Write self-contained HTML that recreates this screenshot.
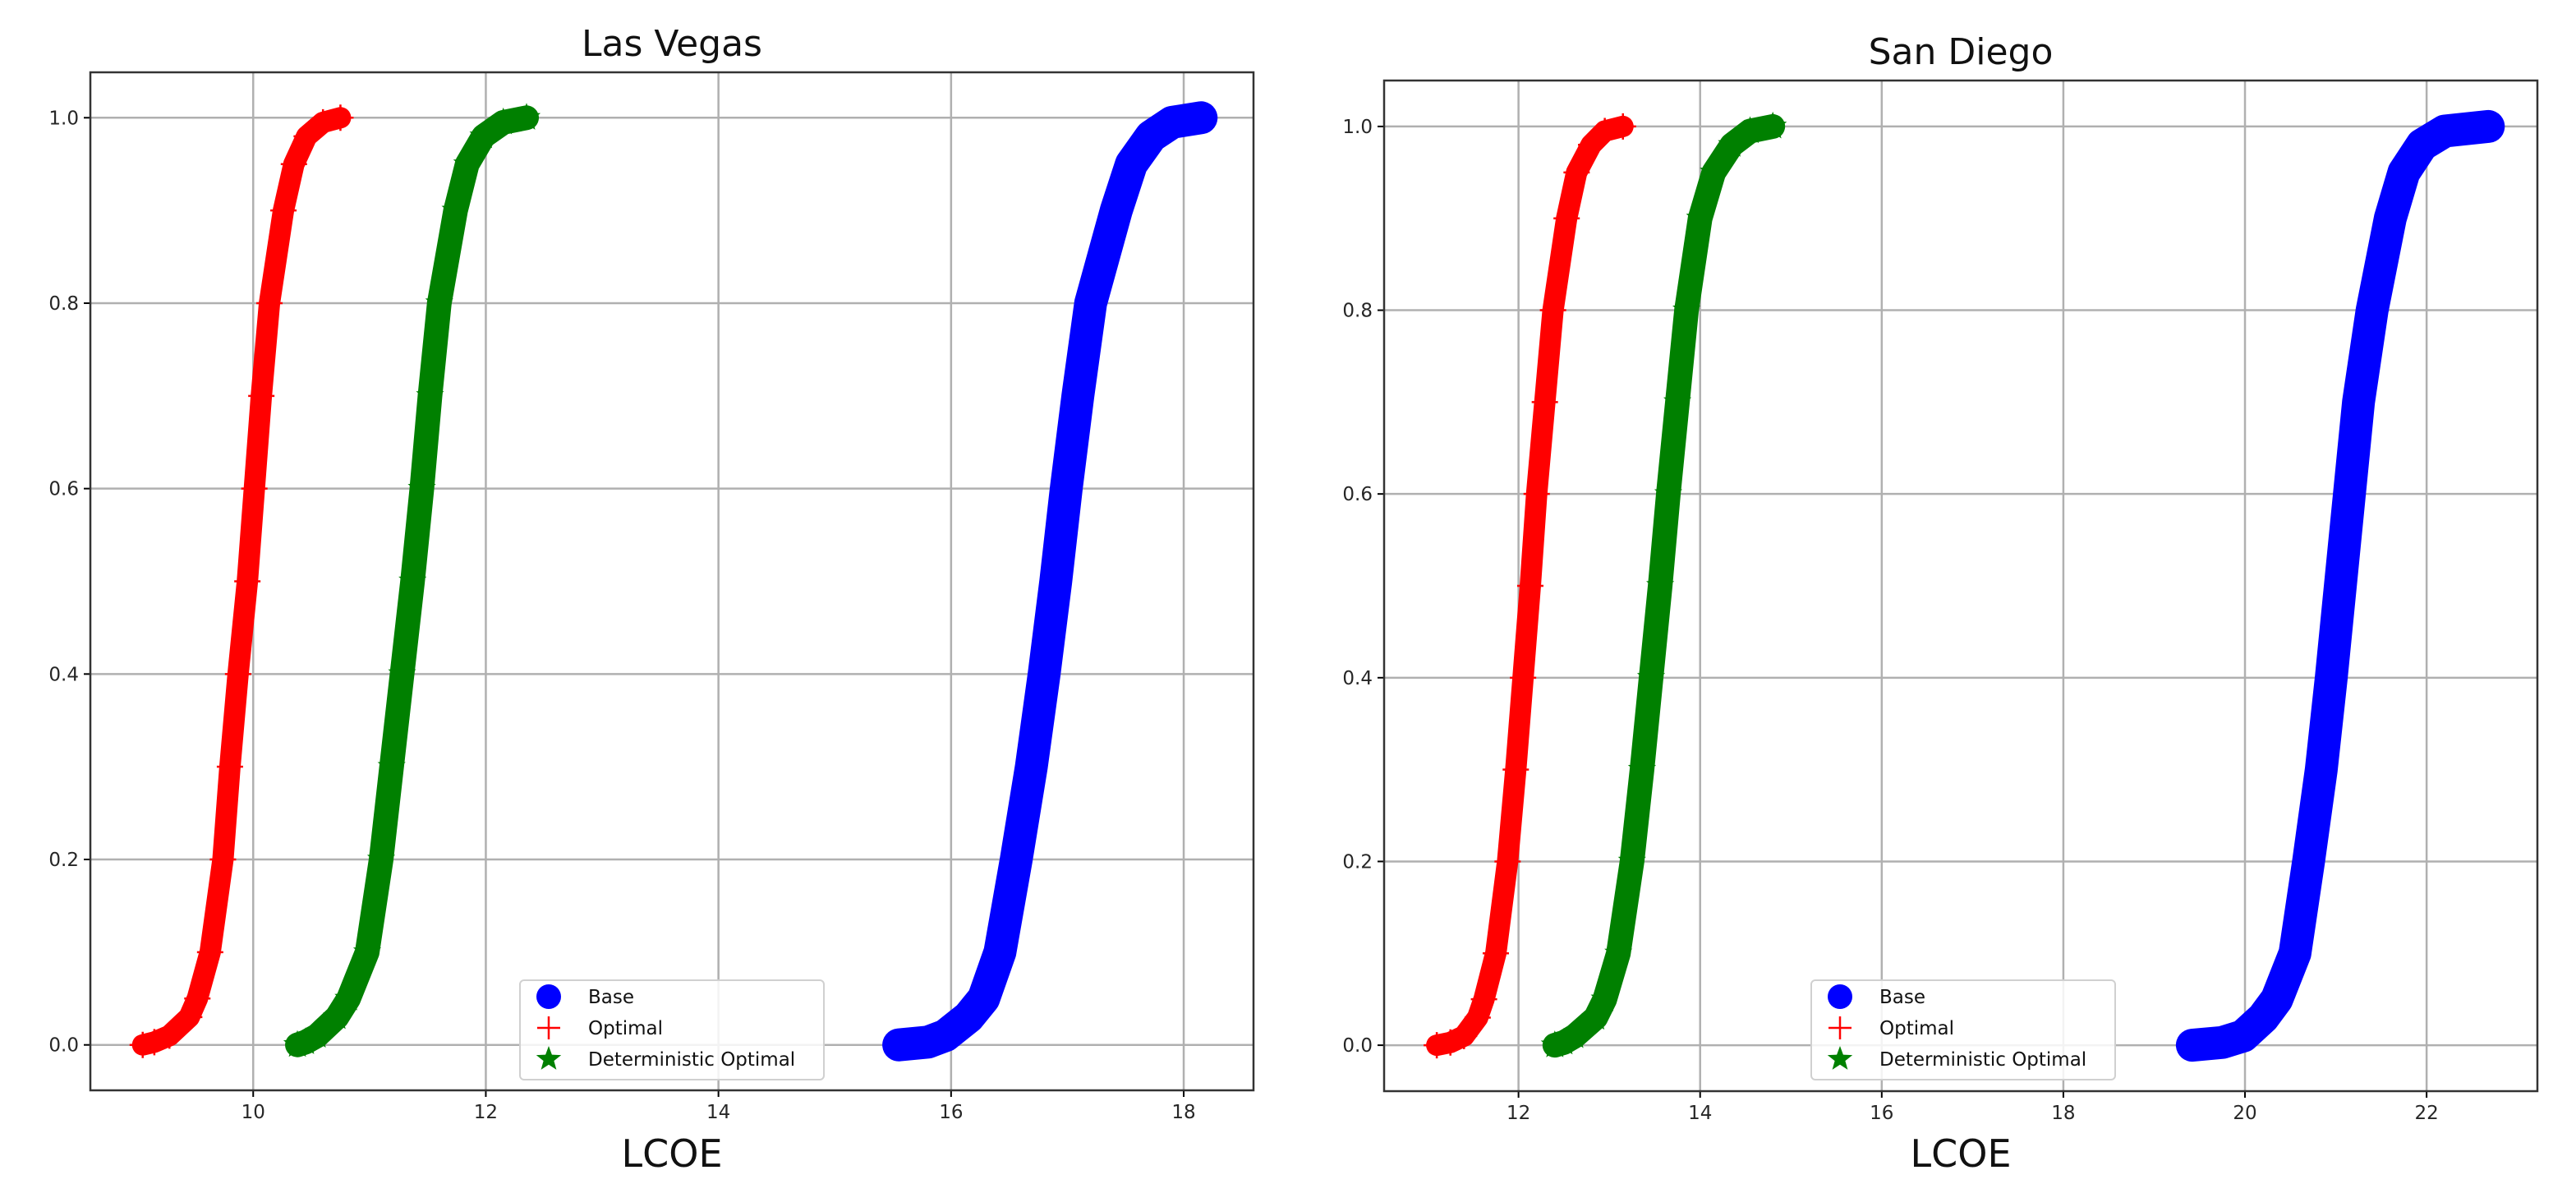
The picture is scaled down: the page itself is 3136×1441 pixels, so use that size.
<!DOCTYPE html>
<html><head><meta charset="utf-8"><style>
html,body{margin:0;padding:0;background:#fff;}
svg{display:block;font-family:"DejaVu Sans","Liberation Sans",sans-serif;}
</style></head><body>
<svg id="fig" width="3136" height="1441" viewBox="0 0 3136 1441" xmlns="http://www.w3.org/2000/svg"></svg>
<script>
// shared cumulative probabilities
const probs = [0,0.003,0.01,0.03,0.05,0.1,0.2,0.3,0.4,0.5,0.6,0.7,0.8,0.9,0.95,0.98,0.995,1.0];
// Las Vegas
const lvBase = [15.55,15.8,15.95,16.15,16.28,16.42,16.56,16.69,16.8,16.9,16.99,17.09,17.2,17.42,17.55,17.72,17.9,18.15];
const lvOptimal = [9.05,9.15,9.28,9.45,9.52,9.63,9.74,9.8,9.87,9.95,10.01,10.07,10.14,10.26,10.35,10.46,10.6,10.75];
const lvDet = [10.38,10.45,10.55,10.72,10.82,10.98,11.1,11.19,11.28,11.37,11.45,11.52,11.6,11.74,11.84,11.98,12.15,12.35];
// San Diego
const sdBase = [19.42,19.75,19.98,20.2,20.35,20.55,20.7,20.84,20.95,21.05,21.15,21.25,21.4,21.6,21.75,21.95,22.2,22.68];
const sdOptimal = [11.1,11.25,11.4,11.55,11.62,11.75,11.88,11.97,12.05,12.13,12.2,12.29,12.38,12.53,12.64,12.8,12.95,13.15];
const sdDet = [12.4,12.5,12.62,12.85,12.95,13.1,13.25,13.36,13.46,13.56,13.65,13.75,13.85,14.0,14.15,14.35,14.55,14.8];
const lvXTicks = [10,12,14,16,18];
const sdXTicks = [12,14,16,18,20,22];
const yTicks = [0,0.2,0.4,0.6,0.8,1.0];

const NS="http://www.w3.org/2000/svg";
const svg=document.getElementById('fig');
function mk(tag,attrs,parent){const e=document.createElementNS(NS,tag);for(const k in attrs)e.setAttribute(k,attrs[k]);(parent||svg).appendChild(e);return e;}

function panel(cfg){
  const g=mk('g',{});
  
  
  const X=v=>cfg.L+(v-cfg.xmin)/(cfg.xmax-cfg.xmin)*(cfg.R-cfg.L);
  const Y=v=>cfg.B-(v-cfg.ymin)/(cfg.ymax-cfg.ymin)*(cfg.B-cfg.T);
  cfg.xticks.forEach(t=>{
    const l=mk('line',{x1:X(t),x2:X(t),y1:cfg.T,y2:cfg.B,stroke:'#b0b0b0','stroke-width':2.5},g);
    
    
    mk('line',{x1:X(t),x2:X(t),y1:cfg.B,y2:cfg.B+8,stroke:'#000','stroke-width':2},g);
    const tx=mk('text',{x:X(t),y:cfg.B+34,'font-size':23,'text-anchor':'middle',fill:'#262626'},g);
    tx.textContent=t;
    
    
  });
  yTicks.forEach(t=>{
    const l=mk('line',{x1:cfg.L,x2:cfg.R,y1:Y(t),y2:Y(t),stroke:'#b0b0b0','stroke-width':2.5},g);
    
    
    mk('line',{x1:cfg.L-8,x2:cfg.L,y1:Y(t),y2:Y(t),stroke:'#000','stroke-width':2},g);
    const tx=mk('text',{x:cfg.L-14,y:Y(t)+8,'font-size':23,'text-anchor':'end',fill:'#262626'},g);
    tx.textContent=t.toFixed(1);
    
    
  });
  const series=[
    {d:cfg.opt,color:'#ff0000',type:'plus',w:26,name:'optimal-series'},
    {d:cfg.det,color:'#008000',type:'star',w:30,name:'deterministic-optimal-series'},
    {d:cfg.base,color:'#0000ff',type:'circle',w:40,name:'base-series'}
  ];
  series.forEach(s=>{
    const sg=mk('g',{},g);
    
    
    const pts=s.d.map((v,i)=>X(v)+','+Y(probs[i])).join(' ');
    mk('polyline',{points:pts,fill:'none',stroke:s.color,'stroke-width':s.w,'stroke-linejoin':'round','stroke-linecap':'round'},sg);
    s.d.forEach((v,i)=>{
      const cx=X(v),cy=Y(probs[i]);
      let m;
      if(s.type==='circle') m=mk('circle',{cx:cx,cy:cy,r:18,fill:s.color},sg);
      else if(s.type==='plus') m=mk('path',{d:`M${cx-16},${cy}H${cx+16}M${cx},${cy-16}V${cy+16}`,stroke:s.color,'stroke-width':2.5},sg);
      else m=mk('path',{d:star(cx,cy,18),fill:s.color},sg);
      
      
    });
  });
  const fr=mk('rect',{x:cfg.L,y:cfg.T,width:cfg.R-cfg.L,height:cfg.B-cfg.T,fill:'none',stroke:'#333','stroke-width':2.5},g);
  
  
  const ti=mk('text',{x:(cfg.L+cfg.R)/2,y:cfg.T-20,'font-size':44,'text-anchor':'middle',fill:'#111'},g);
  ti.textContent=cfg.title;
  
  
  const xl=mk('text',{x:(cfg.L+cfg.R)/2,y:1420,'font-size':46,'text-anchor':'middle',fill:'#111'},g);
  xl.textContent='LCOE';
  
  
  const lg=mk('g',{},g);
  
  
  mk('rect',{x:cfg.lgx,y:1193,width:370,height:121,rx:5,fill:'#fff','fill-opacity':0.85,stroke:'#d0d0d0','stroke-width':2},lg);
  const ents=[['Base','circle','#0000ff'],['Optimal','plus','#ff0000'],['Deterministic Optimal','star','#008000']];
  ents.forEach((e,i)=>{
    const ey=1213+i*38, ex=cfg.lgx+35;
    const eg=mk('g',{},lg);
    
    
    if(e[1]==='circle') mk('circle',{cx:ex,cy:ey,r:15,fill:e[2]},eg);
    else if(e[1]==='plus') mk('path',{d:`M${ex-14},${ey}H${ex+14}M${ex},${ey-14}V${ey+14}`,stroke:e[2],'stroke-width':2.5},eg);
    else mk('path',{d:star(ex,ey,16),fill:e[2]},eg);
    const t=mk('text',{x:ex+48,y:ey+8,'font-size':23,fill:'#111'},eg);
    t.textContent=e[0];
  });
}
function star(cx,cy,r){let d='';for(let i=0;i<10;i++){const rr=i%2?r*0.42:r;const a=-Math.PI/2+i*Math.PI/5;d+=(i?'L':'M')+(cx+rr*Math.cos(a)).toFixed(1)+','+(cy+rr*Math.sin(a)).toFixed(1);}return d+'Z';}

panel({name:'las-vegas-chart',title:'Las Vegas',L:110,R:1526,T:88,B:1327,xmin:8.6,xmax:18.6,ymin:-0.049,ymax:1.049,xticks:lvXTicks,base:lvBase,opt:lvOptimal,det:lvDet,lgx:633});
panel({name:'san-diego-chart',title:'San Diego',L:1685,R:3089,T:98,B:1328,xmin:10.52,xmax:23.22,ymin:-0.05,ymax:1.05,xticks:sdXTicks,base:sdBase,opt:sdOptimal,det:sdDet,lgx:2205});
</script>
</body></html>
